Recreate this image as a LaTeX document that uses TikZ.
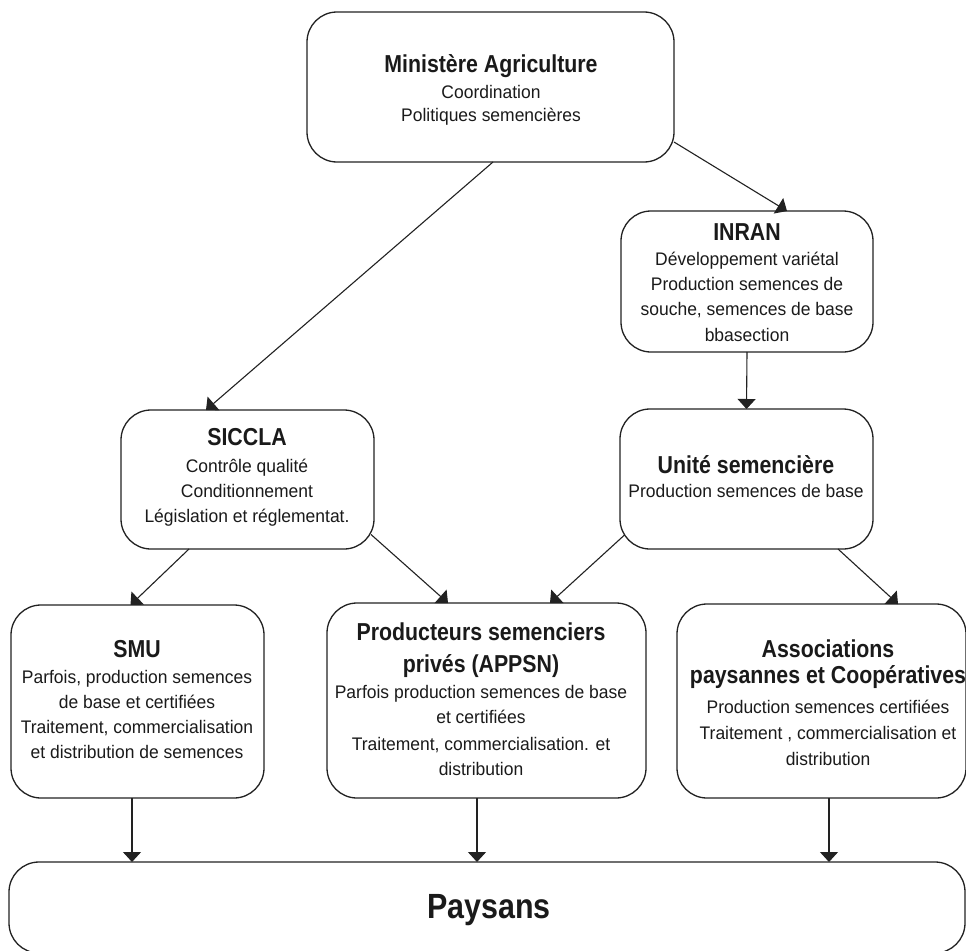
\documentclass[tikz,border=0pt]{standalone}
\usepackage{fontspec}
\setmainfont{Liberation Sans}[FakeStretch=0.96]
\newfontfamily\ttlfont{Liberation Sans}[FakeStretch=0.87]
\usetikzlibrary{arrows.meta}
\definecolor{linec}{HTML}{222222}
\definecolor{textc}{HTML}{1A1A1A}
\newcommand\normfont{\fontsize{18.2}{25}\selectfont\lineskiplimit=-100pt\relax}
\newcommand\ttl[1]{{\ttlfont\bfseries\fontsize{24.5}{25}\selectfont #1}}
\tikzset{
  box/.style={draw=linec, line width=1.3pt, rounded corners=30pt, inner sep=0pt, outer sep=0pt},
  txt/.style={align=center, anchor=base, inner sep=0pt, text=textc, font=\normfont},
  conn/.style={draw=linec, line width=1.1pt, -{Triangle[length=10pt,width=18pt]}},
}
\begin{document}
\begin{tikzpicture}[x=1pt,y=-1pt]
\fill[white] (0,0) rectangle (966,950);
\useasboundingbox (0,0) rectangle (966,950);

% boxes
\node[box, minimum width=367pt, minimum height=150pt] (min) at (490.5,87) {};
\node[box, minimum width=252pt, minimum height=141pt] (inran) at (747,281.5) {};
\node[box, minimum width=253pt, minimum height=140pt] (unite) at (746.5,479) {};
\node[box, minimum width=253pt, minimum height=139pt] (sic) at (247.5,479.5) {};
\node[box, minimum width=253pt, minimum height=193pt] (smu) at (137.5,701.5) {};
\node[box, minimum width=319pt, minimum height=195pt] (prod) at (486.5,700.5) {};
\node[box, minimum width=289pt, minimum height=194pt] (asso) at (821.5,701) {};
\node[box, minimum width=956pt, minimum height=91pt] (pay) at (487,907.5) {};

% texts (anchored at the baseline of the last line)
\node[txt] (minT) at (491,121) {\ttl{Ministère Agriculture}\\[1pt] Coordination\\[-3pt] Politiques semencières};
\node[txt] (inranT) at (747,341) {\ttl{INRAN}\\ Développement variétal\\ Production semences de\\ souche, semences de base\\[1pt] bbasection};
\node[txt] (uniteT) at (746,497) {\ttl{Unité semencière}\\[-1pt] Production semences de base};
\node[txt] (sicT) at (247,522) {\ttl{SICCLA}\\[2pt] Contrôle qualité\\ Conditionnement\\ Législation et réglementat.};
\node[txt] (smuT) at (137,758) {\ttl{SMU}\\[1pt] Parfois, production semences\\ de base et certifiées\\ Traitement, commercialisation\\ et distribution de semences};
\node[txt] (prodT) at (481,775) {\ttl{Producteurs semenciers}\\[7pt] \ttl{privés (APPSN)}\\[1pt] Parfois production semences de base\\ et certifiées\\[2pt] Traitement, commercialisation. et\\ distribution};
\node[txt] (assoT) at (828,765) {\ttl{Associations}\\[1pt] \ttl{paysannes et Coopératives}\\[5pt] Production semences certifiées\\[1pt] Traitement , commercialisation et\\[1pt] distribution};
\node[txt] (payT) at (489,918) {{\ttlfont\bfseries\fontsize{35}{40}\selectfont Paysans}};

% connectors
\draw[conn] ([yshift=-55pt]min.east) -- ([xshift=40pt]inran.north);
\draw[conn] ([xshift=2.5pt]min.south) -- ([xshift=-41.5pt]sic.north);
\draw[conn] (inran.south) -- (unite.north);
\draw[conn] ([xshift=-58.5pt]sic.south) -- ([xshift=-7pt]smu.north);
\draw[conn] ([xshift=-3pt,yshift=-55pt]sic.east) -- ([xshift=-38.5pt]prod.north);
\draw[conn] ([xshift=4.5pt,yshift=-56pt]unite.west) -- ([xshift=63.5pt]prod.north);
\draw[conn] ([xshift=91.5pt]unite.south) -- ([xshift=76.5pt]asso.north);
\draw[conn] ([xshift=-5.5pt]smu.south) -- ([xshift=-5.5pt]smu.south |- pay.north);
\draw[conn] ([xshift=-9.5pt]prod.south) -- ([xshift=-9.5pt]prod.south |- pay.north);
\draw[conn] ([xshift=7.5pt]asso.south) -- ([xshift=7.5pt]asso.south |- pay.north);
\end{tikzpicture}
\end{document}
